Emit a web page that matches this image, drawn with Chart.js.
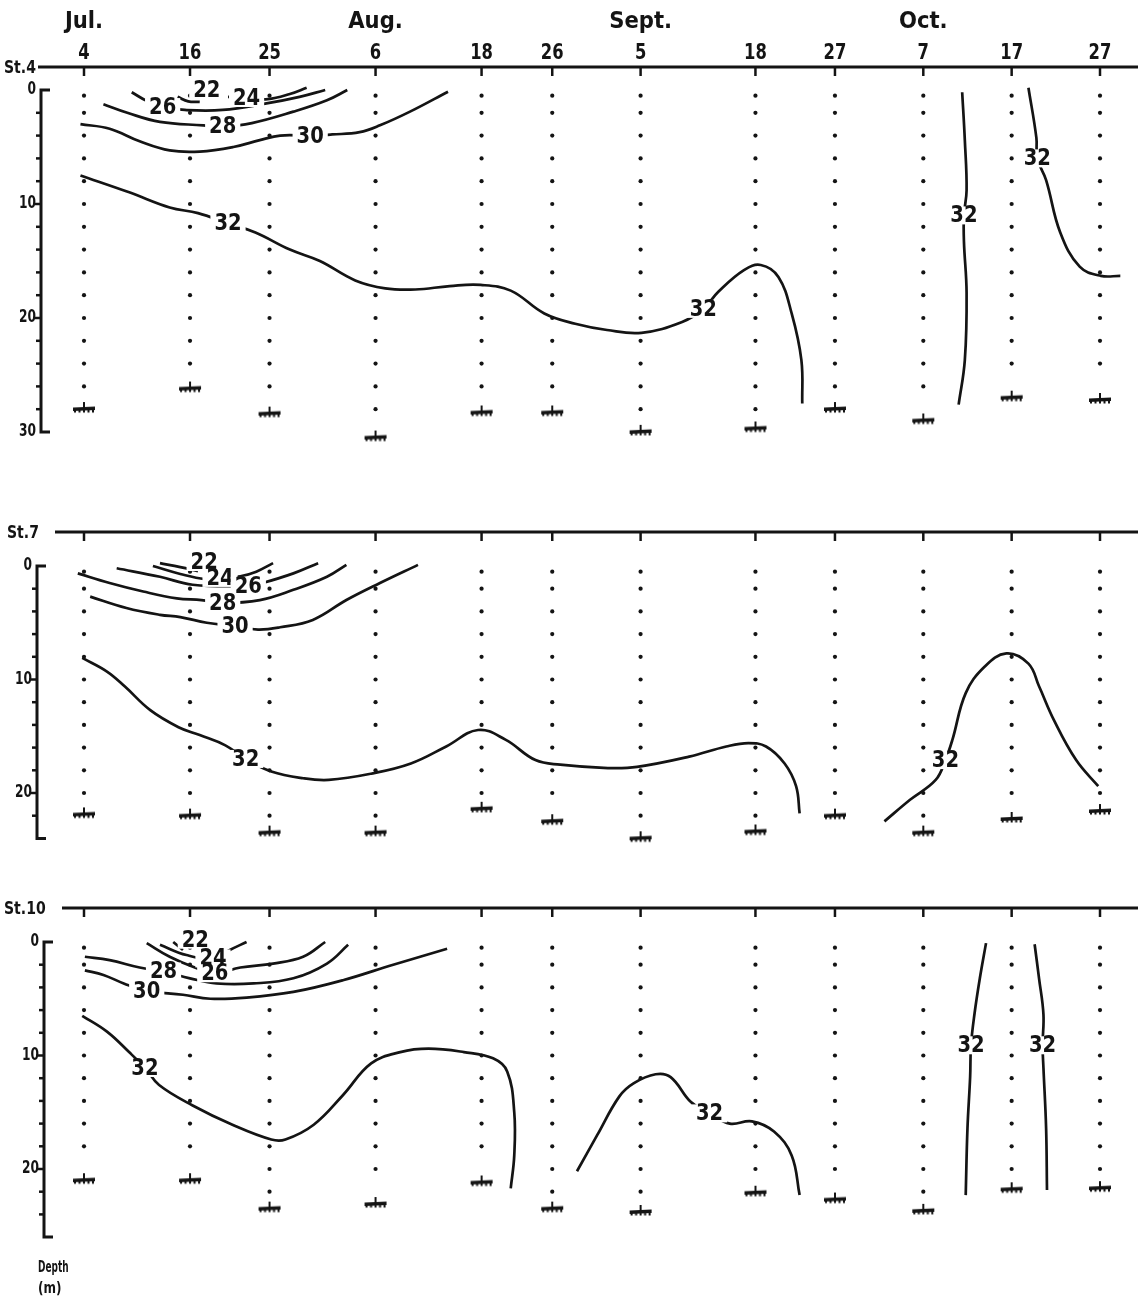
<!DOCTYPE html>
<html>
<head>
<meta charset="utf-8">
<script src="https://cdn.jsdelivr.net/npm/chart.js@4.4.1/dist/chart.umd.min.js"></script>
<style>
  html, body { margin: 0; padding: 0; background: #fff; }
  #wrap { position: relative; width: 1138px; height: 1298px; }
</style>
</head>
<body>
<div id="wrap"><canvas id="section" width="1138" height="1298"></canvas></div>
<script>
// ============================================
// Salinity sections at St.4, St.7, St.10
// x = day counted from 30 June, y = depth (m)
// ============================================

// ---- sampling dates ----
const months = ['Jul.', 'Aug.', 'Sept.', 'Oct.'];
const monthFirstDate = [0, 3, 6, 9];
const dateLabels = ['4', '16', '25', '6', '18', '26', '5', '18', '27', '7', '17', '27'];
const dateDays = [4, 16, 25, 37, 49, 57, 67, 80, 89, 99, 109, 119];

// ---- sampling depths (m) and sea floor per date ----
const sampleDepths = [0.5, 2, 4, 6, 8, 10, 12, 14, 16, 18, 20, 22, 24, 26, 28, 30];
const stations = ['St.4', 'St.7', 'St.10'];
const floorSt4 = [27.9, 26.1, 28.3, 30.4, 28.2, 28.2, 29.9, 29.6, 27.9, 28.9, 26.9, 27.1];
const floorSt7 = [21.8, 21.9, 23.4, 23.4, 21.3, 22.4, 23.9, 23.3, 21.9, 23.4, 22.2, 21.5];
const floorSt10 = [20.9, 20.9, 23.4, 23.0, 21.1, 23.4, 23.7, 22.0, 22.6, 23.6, 21.7, 21.6];

// ---- depth axis ----
const depthTicksSt4 = [0, 10, 20, 30];
const depthTicksSt7 = [0, 10, 20];
const depthTicksSt10 = [0, 10, 20];
const depthEnd = [30, 24, 26];

// ---- isohalines St.4 [day, depth] ----
const st4_22 = [[14.6, 0.6], [15.8, 1.0], [17.1, 1.05]];
const st4_24 = [[20.3, 0.6], [22.4, 0.7], [24.8, 0.8], [27.3, 0.35], [29.2, -0.2]];
const st4_26 = [[9.4, 0.2], [11.2, 1.0], [12.9, 1.5], [15.4, 1.75], [19.7, 1.75], [24.5, 1.2], [28.4, 0.6], [31.3, 0.0]];
const st4_28 = [[6.2, 1.25], [8.9, 2.0], [12.6, 2.8], [17.5, 3.1], [19.7, 3.2], [23.0, 2.9], [27.7, 1.9], [31.5, 0.9], [33.8, 0.0]];
const st4_30 = [[3.6, 3.0], [6.9, 3.4], [10.3, 4.5], [13.7, 5.3], [17.1, 5.4], [20.9, 5.0], [23.9, 4.4], [26.2, 4.0],
                [29.6, 4.0], [32.1, 3.9], [35.2, 3.7], [37.5, 3.1], [40.9, 1.9], [45.2, 0.15]];
const st4_32a = [[3.6, 7.5], [9.2, 9.0], [13.7, 10.3], [16.9, 10.8], [20.3, 11.7], [23.4, 12.5], [27.3, 14.0], [30.7, 15.0],
                 [34.7, 16.7], [38.1, 17.4], [41.5, 17.5], [45.4, 17.2], [48.9, 17.1], [52.3, 17.6], [56.1, 19.6],
                 [59.6, 20.5], [63.2, 21.05], [67.1, 21.3], [71.7, 20.35], [74.1, 19.2], [75.8, 17.7], [78.7, 15.8],
                 [80.6, 15.35], [82.6, 16.4], [84.1, 19.6], [85.2, 23.7], [85.3, 27.5]];
const st4_32b = [[103.4, 0.2], [103.7, 4.4], [103.9, 8.8], [103.6, 11.0], [103.6, 13.3], [103.9, 17.8], [103.7, 23.7], [103.0, 27.6]];
const st4_32c = [[110.9, -0.2], [111.8, 4.2], [111.9, 6.0], [112.9, 7.9], [114.5, 12.5], [116.7, 15.5], [119.1, 16.3], [121.3, 16.3]];
const st4Labels = [['22', 17.9, 0.0], ['24', 22.4, 0.7], ['26', 12.9, 1.5], ['28', 19.7, 3.2], ['30', 29.6, 4.0],
                   ['32', 20.3, 11.7], ['32', 74.1, 19.2], ['32', 103.6, 11.0], ['32', 111.9, 6.0]];

// ---- isohalines St.7 ----
const st7_22 = [[12.6, -0.25], [14.9, 0.1], [16.9, 0.45]];
const st7_24 = [[11.8, 0.0], [14.9, 0.7], [17.7, 1.15], [19.4, 1.05], [21.7, 0.9], [23.5, 0.5], [25.4, -0.25]];
const st7_26 = [[7.7, 0.2], [12.6, 0.95], [16.3, 1.65], [22.6, 1.75], [24.2, 1.5], [27.7, 0.65], [30.5, -0.25]];
const st7_28 = [[3.3, 0.65], [6.9, 1.5], [10.7, 2.25], [14.5, 2.85], [17.3, 3.0], [19.7, 3.25], [23.9, 3.0], [27.7, 2.1],
                [31.5, 0.95], [33.7, -0.1]];
const st7_30 = [[4.7, 2.7], [8.8, 3.7], [12.6, 4.3], [14.9, 4.5], [17.9, 5.0], [21.1, 5.3], [23.7, 5.6], [26.2, 5.4],
                [29.9, 4.75], [33.7, 3.0], [37.5, 1.5], [41.8, -0.1]];
const st7_32a = [[3.8, 8.1], [6.6, 9.3], [8.6, 10.6], [11.5, 12.7], [14.7, 14.2], [17.1, 14.9], [20.0, 15.8], [22.3, 17.0],
                 [25.2, 18.1], [28.8, 18.7], [31.7, 18.85], [36.5, 18.3], [41.0, 17.4], [45.0, 15.9], [48.6, 14.45],
                 [51.7, 15.3], [55.1, 17.1], [57.9, 17.5], [63.3, 17.8], [66.6, 17.7], [72.5, 16.8], [76.7, 15.9],
                 [79.2, 15.6], [81.2, 15.9], [83.3, 17.4], [84.6, 19.4], [85.0, 21.8]];
const st7_32b = [[94.6, 22.5], [97.5, 20.6], [100.4, 18.85], [101.5, 17.1], [102.3, 15.3], [103.8, 11.2], [105.9, 8.9],
                 [108.4, 7.7], [110.9, 8.6], [112.1, 10.6], [113.8, 13.6], [116.3, 17.1], [118.8, 19.4]];
const st7Labels = [['22', 17.6, -0.35], ['24', 19.4, 1.05], ['26', 22.6, 1.75], ['28', 19.7, 3.25], ['30', 21.1, 5.3],
                   ['32', 22.3, 17.0], ['32', 101.5, 17.1]];

// ---- isohalines St.10 ----
const st10_22 = [[14.1, 0.0], [15.2, 0.7]];
const st10_24 = [[12.6, 0.25], [15.6, 1.15], [18.6, 1.45], [20.5, 0.7], [22.4, 0.0]];
const st10_26 = [[11.1, 0.1], [13.7, 1.3], [16.4, 2.2], [18.8, 2.75], [21.7, 2.25], [25.4, 1.9], [28.8, 1.3], [31.3, 0.0]];
const st10_28 = [[4.1, 1.3], [6.9, 1.6], [10.3, 2.25], [13.0, 2.6], [16.0, 3.2], [19.0, 3.65], [23.2, 3.65], [27.7, 3.2],
                 [31.5, 1.9], [33.9, 0.25]];
const st10_30 = [[4.1, 2.5], [6.2, 2.9], [8.5, 3.65], [11.1, 4.3], [15.2, 4.65], [18.3, 5.0], [22.4, 4.9], [27.7, 4.4],
                 [33.4, 3.35], [39.0, 2.0], [45.1, 0.6]];
const st10_32a = [[3.8, 6.5], [6.6, 7.9], [9.1, 9.7], [10.9, 11.1], [12.5, 12.6], [16.3, 14.4], [20.8, 16.1], [25.2, 17.4],
                  [26.8, 17.4], [30.0, 16.1], [33.3, 13.5], [36.5, 10.7], [39.8, 9.7], [43.0, 9.4], [47.0, 9.7],
                  [50.3, 10.25], [51.9, 11.4], [52.7, 15.0], [52.7, 18.8], [52.3, 21.7]];
const st10_32b = [[59.8, 20.2], [62.1, 17.0], [64.6, 13.6], [66.2, 12.45], [68.7, 11.65], [70.4, 11.9], [72.7, 14.1],
                  [74.8, 15.1], [77.1, 16.0], [79.6, 15.8], [82.1, 16.7], [84.1, 18.8], [85.0, 22.3]];
const st10_32c = [[106.1, 0.1], [105.4, 3.2], [104.8, 6.3], [104.4, 9.1], [104.3, 11.9], [104.0, 16.4], [103.8, 22.3]];
const st10_32d = [[111.6, 0.2], [112.1, 3.2], [112.6, 6.4], [112.5, 9.1], [112.6, 11.1], [112.9, 16.4], [113.0, 21.85]];
const st10Labels = [['22', 16.6, -0.2], ['24', 18.6, 1.45], ['26', 18.8, 2.75], ['28', 13.0, 2.6], ['30', 11.1, 4.3],
                    ['32', 10.9, 11.1], ['32', 74.8, 15.1], ['32', 104.4, 9.1], ['32', 112.5, 9.1]];

// ---- page layout (pixels) ----
const W = 1138, H = 1298;
const FIRST_DATE_PX = 84, LAST_DATE_PX = 1100;
const PANELS = [
  { axis: 'y1', zeroPx: 90,  pxPerM: 11.4,  topPx: 67,  lineFrom: 38, axisX: 41, stX: 4, ticks: depthTicksSt4 },
  { axis: 'y2', zeroPx: 566, pxPerM: 11.35, topPx: 532, lineFrom: 55, axisX: 37, stX: 7, ticks: depthTicksSt7 },
  { axis: 'y3', zeroPx: 942, pxPerM: 11.35, topPx: 908, lineFrom: 62, axisX: 44, stX: 4, ticks: depthTicksSt10 }
];
const INK = '#141414';
const FONT = '"DejaVu Sans", "Liberation Sans", sans-serif';

const pxPerDay = (LAST_DATE_PX - FIRST_DATE_PX) / (dateDays[dateDays.length - 1] - dateDays[0]);
const X_MIN = dateDays[0] - FIRST_DATE_PX / pxPerDay;
const X_MAX = X_MIN + W / pxPerDay;

function pts(arr) {
  return arr.map(p => ({ x: p[0], y: p[1] }));
}

function txt(ctx, s, x, y, size, sx, align) {
  ctx.save();
  ctx.translate(x, y);
  ctx.scale(sx, 1);
  ctx.font = 'bold ' + size + 'px ' + FONT;
  ctx.textAlign = align || 'center';
  ctx.textBaseline = 'middle';
  ctx.fillStyle = INK;
  ctx.fillText(s, 0, 0);
  ctx.restore();
}

// little sea-floor symbol used as point style
function seabedMark() {
  const c = document.createElement('canvas');
  c.width = 26; c.height = 16;
  const g = c.getContext('2d');
  g.fillStyle = INK;
  g.fillRect(12, 2, 2, 6);
  g.beginPath();
  g.moveTo(2, 7.5); g.lineTo(24, 6.5); g.lineTo(24, 10); g.lineTo(2, 11);
  g.closePath();
  g.fill();
  for (let i = 0; i < 5; i++) g.fillRect(3 + i * 4.5, 10, 2, 2.5);
  return c;
}

// ---- datasets ----
const datasets = [];
const contourSets = [
  [st4_22, st4_24, st4_26, st4_28, st4_30, st4_32a, st4_32b, st4_32c],
  [st7_22, st7_24, st7_26, st7_28, st7_30, st7_32a, st7_32b],
  [st10_22, st10_24, st10_26, st10_28, st10_30, st10_32a, st10_32b, st10_32c, st10_32d]
];
const floors = [floorSt4, floorSt7, floorSt10];
const labelSets = [st4Labels, st7Labels, st10Labels];
const mark = seabedMark();

contourSets.forEach((lines, p) => {
  lines.forEach(line => {
    datasets.push({
      data: pts(line),
      yAxisID: PANELS[p].axis,
      showLine: true,
      borderColor: INK,
      borderWidth: 2.7,
      tension: 0.4,
      pointRadius: 0,
      fill: false
    });
  });
});

floors.forEach((fl, p) => {
  // sampling dots
  const dots = [];
  dateDays.forEach((d, i) => {
    sampleDepths.forEach(z => { if (z <= fl[i] - 1.3) dots.push({ x: d, y: z }); });
  });
  datasets.push({
    data: dots, yAxisID: PANELS[p].axis, showLine: false,
    pointRadius: 2.1, pointBackgroundColor: INK, pointBorderWidth: 0
  });
  // sea floor
  datasets.push({
    data: dateDays.map((d, i) => ({ x: d, y: fl[i] })), yAxisID: PANELS[p].axis, showLine: false,
    pointStyle: mark, pointRadius: 10
  });
});

// ---- frame: date axis, depth axes, station names ----
const framePlugin = {
  id: 'frame',
  afterDatasetsDraw(chart) {
    const ctx = chart.ctx;
    const xs = chart.scales.x;
    ctx.save();
    ctx.strokeStyle = INK;
    ctx.lineCap = 'butt';

    // months and day numbers above the first panel
    months.forEach((m, i) => {
      txt(ctx, m, xs.getPixelForValue(dateDays[monthFirstDate[i]]), 22, 23, 0.92);
    });
    dateDays.forEach((d, i) => {
      txt(ctx, dateLabels[i], xs.getPixelForValue(d), 54, 21, 0.78);
    });

    PANELS.forEach((pn, p) => {
      const ys = chart.scales[pn.axis];
      // station line with date ticks
      ctx.lineWidth = 3;
      ctx.beginPath();
      ctx.moveTo(pn.lineFrom, pn.topPx);
      ctx.lineTo(W, pn.topPx);
      ctx.stroke();
      ctx.lineWidth = 2.5;
      dateDays.forEach(d => {
        const x = xs.getPixelForValue(d);
        ctx.beginPath();
        ctx.moveTo(x, pn.topPx);
        ctx.lineTo(x, pn.topPx + 9);
        ctx.stroke();
      });
      txt(ctx, stations[p], pn.stX, pn.topPx + 1, 18, 0.78, 'left');

      // depth axis
      const y0 = ys.getPixelForValue(0);
      const yEnd = ys.getPixelForValue(depthEnd[p]);
      ctx.lineWidth = 3;
      ctx.beginPath();
      ctx.moveTo(pn.axisX + 9, y0);
      ctx.lineTo(pn.axisX, y0);
      ctx.lineTo(pn.axisX, yEnd);
      ctx.lineTo(pn.axisX + 9, yEnd);
      ctx.stroke();
      ctx.lineWidth = 2.5;
      for (let z = 2; z < depthEnd[p]; z += 2) {
        const y = ys.getPixelForValue(z);
        const len = z % 10 === 0 ? 8 : 5;
        ctx.beginPath();
        ctx.moveTo(pn.axisX, y);
        ctx.lineTo(pn.axisX - len, y);
        ctx.stroke();
      }
      pn.ticks.forEach(t => {
        txt(ctx, String(t), pn.axisX - 5, ys.getPixelForValue(t), 17, 0.72, 'right');
      });
    });

    txt(ctx, 'Depth', 38, 1268, 16, 0.56, 'left');
    txt(ctx, '(m)', 38, 1289, 16, 0.75, 'left');
    ctx.restore();
  }
};

// ---- isohaline labels with white knock-out ----
const LABEL_SIZE = 23, LABEL_SX = 0.85;
const labelPlugin = {
  id: 'isoLabels',
  afterDatasetsDraw(chart) {
    const ctx = chart.ctx;
    const xs = chart.scales.x;
    ctx.save();
    ctx.font = 'bold ' + LABEL_SIZE + 'px ' + FONT;
    labelSets.forEach((set, p) => {
      const ys = chart.scales[PANELS[p].axis];
      set.forEach(([s, d, z]) => {
        const x = xs.getPixelForValue(d);
        const y = ys.getPixelForValue(z);
        const w = ctx.measureText(s).width * LABEL_SX;
        ctx.fillStyle = '#fff';
        ctx.fillRect(x - w / 2 - 4, y - 9, w + 8, 18);
        txt(ctx, s, x, y + 1, LABEL_SIZE, LABEL_SX);
      });
    });
    ctx.restore();
  }
};

const yScale = pn => ({
  type: 'linear', display: false, reverse: true,
  min: -pn.zeroPx / pn.pxPerM, max: (H - pn.zeroPx) / pn.pxPerM
});

new Chart(document.getElementById('section').getContext('2d'), {
  type: 'scatter',
  data: { datasets: datasets },
  options: {
    responsive: false,
    animation: false,
    devicePixelRatio: 1,
    layout: { padding: 0, autoPadding: false },
    plugins: { legend: { display: false }, tooltip: { enabled: false } },
    scales: {
      x: { type: 'linear', display: false, min: X_MIN, max: X_MAX },
      y1: yScale(PANELS[0]),
      y2: yScale(PANELS[1]),
      y3: yScale(PANELS[2])
    }
  },
  plugins: [labelPlugin, framePlugin]
});
</script>
</body>
</html>
